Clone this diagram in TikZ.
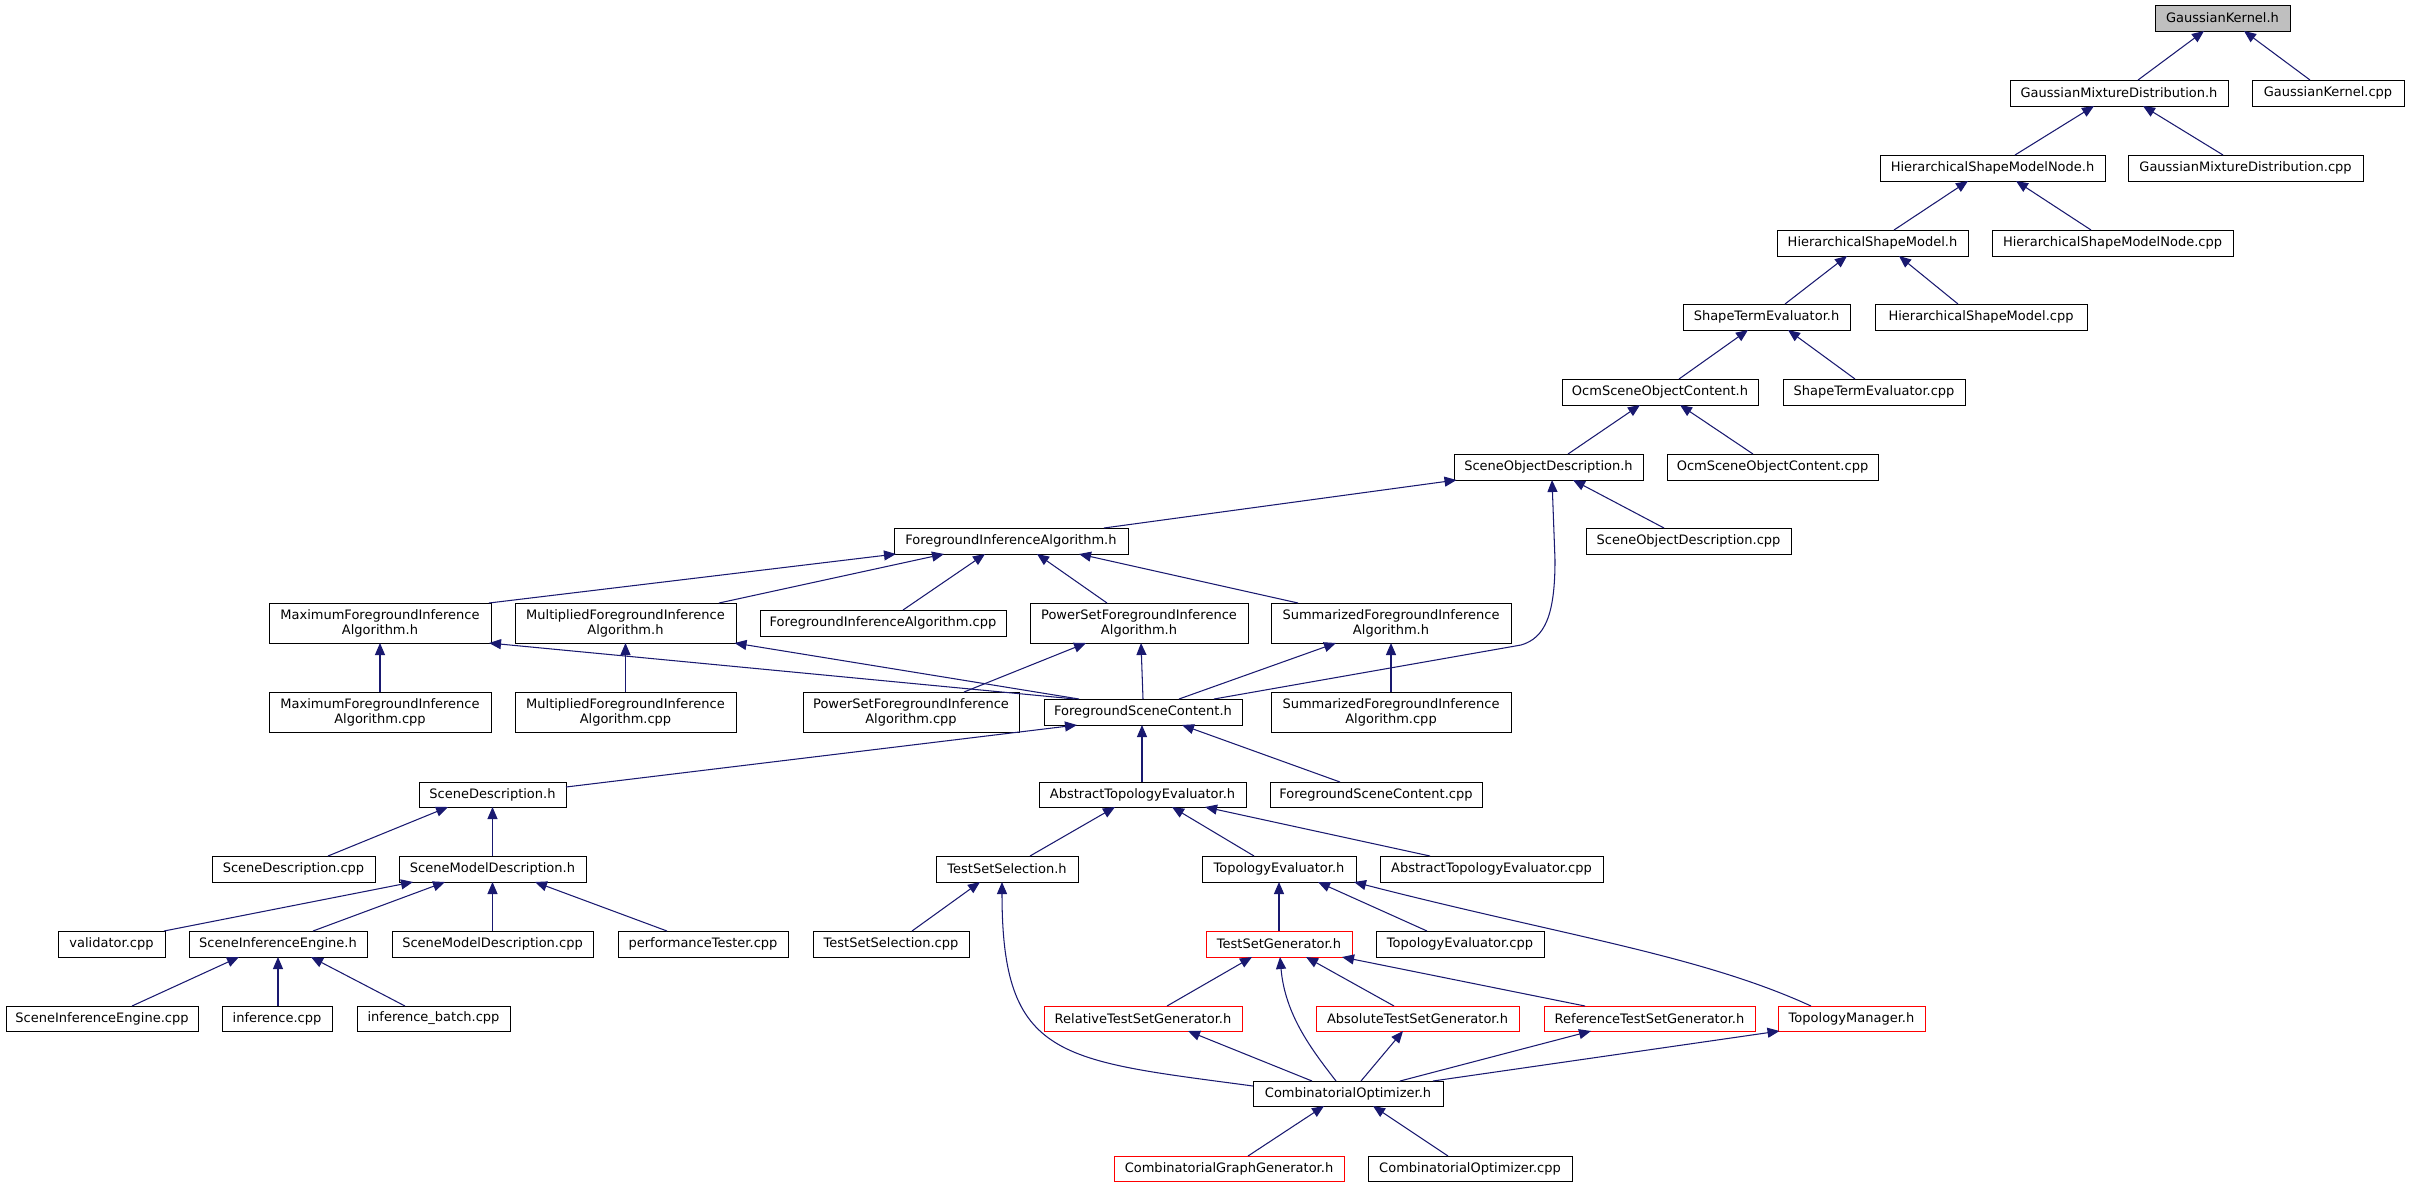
\documentclass[tikz,border=0pt]{standalone}
\usepackage{fontspec}
\newfontfamily\dg{DejaVu Sans}
\usetikzlibrary{arrows.meta}
\definecolor{navy}{RGB}{25,25,112}
\tikzset{
  box/.style={draw=black, fill=white, line width=0.9pt, inner sep=0pt, outer sep=0pt, align=center, font=\dg\fontsize{13}{15}\selectfont},
  redbox/.style={box, draw=red},
  graybox/.style={box, fill=black!25},
  edge/.style={draw=navy, line width=1.05pt, {Triangle[length=12pt,width=10pt]}-}
}
\newcommand\nd[7]{\node[#7, minimum width=#4pt, minimum height=#5pt] (#1) at (#2,#3) {#6};}
\newcommand\ed[4]{\draw[edge] ([xshift=#2pt]#1.south) -- ([xshift=#4pt]#3.north);}
\begin{document}
\begin{tikzpicture}[x=1pt,y=-1pt]
\useasboundingbox (0,0) rectangle (2409,1187);
\fill[white] (0,0) rectangle (2409,1187);
\nd{gkh}{2222.5}{18}{135}{26}{GaussianKernel.h}{graybox}
\nd{gmdh}{2119}{93}{218}{26}{GaussianMixtureDistribution.h}{box}
\nd{gkcpp}{2328}{93}{152}{26}{GaussianKernel.cpp}{box}
\nd{hsmnh}{1992.5}{168}{225}{26}{HierarchicalShapeModelNode.h}{box}
\nd{gmdcpp}{2245.5}{168}{235}{26}{GaussianMixtureDistribution.cpp}{box}
\nd{hsmh}{1872.5}{243}{191}{26}{HierarchicalShapeModel.h}{box}
\nd{hsmncpp}{2112.5}{243}{241}{26}{HierarchicalShapeModelNode.cpp}{box}
\nd{steh}{1766.5}{317}{167}{26}{ShapeTermEvaluator.h}{box}
\nd{hsmcpp}{1981}{317}{212}{26}{HierarchicalShapeModel.cpp}{box}
\nd{osoch}{1660}{392}{196}{26}{OcmSceneObjectContent.h}{box}
\nd{stecpp}{1874}{392}{182}{26}{ShapeTermEvaluator.cpp}{box}
\nd{sodh}{1548.5}{467}{189}{26}{SceneObjectDescription.h}{box}
\nd{osoccpp}{1772.5}{467}{211}{26}{OcmSceneObjectContent.cpp}{box}
\nd{fiah}{1011}{541}{234}{26}{ForegroundInferenceAlgorithm.h}{box}
\nd{sodcpp}{1688.5}{541}{205}{26}{SceneObjectDescription.cpp}{box}
\nd{maxh}{380}{623}{222}{40}{MaximumForegroundInference\\Algorithm.h}{box}
\nd{multh}{625.5}{623}{221}{40}{MultipliedForegroundInference\\Algorithm.h}{box}
\nd{fiacpp}{883}{623}{246}{26}{ForegroundInferenceAlgorithm.cpp}{box}
\nd{psh}{1139}{623}{218}{40}{PowerSetForegroundInference\\Algorithm.h}{box}
\nd{sumh}{1391}{623}{240}{40}{SummarizedForegroundInference\\Algorithm.h}{box}
\nd{maxcpp}{380}{712}{222}{40}{MaximumForegroundInference\\Algorithm.cpp}{box}
\nd{multcpp}{625.5}{712}{221}{40}{MultipliedForegroundInference\\Algorithm.cpp}{box}
\nd{pscpp}{911}{712}{216}{40}{PowerSetForegroundInference\\Algorithm.cpp}{box}
\nd{fsch}{1143}{712}{198}{26}{ForegroundSceneContent.h}{box}
\nd{sumcpp}{1391}{712}{240}{40}{SummarizedForegroundInference\\Algorithm.cpp}{box}
\nd{sdh}{492.5}{794.5}{147}{25}{SceneDescription.h}{box}
\nd{ateh}{1142.5}{794.5}{207}{25}{AbstractTopologyEvaluator.h}{box}
\nd{fsccpp}{1376}{794.5}{212}{25}{ForegroundSceneContent.cpp}{box}
\nd{sdcpp}{293.5}{869}{163}{26}{SceneDescription.cpp}{box}
\nd{smdh}{492.5}{869}{187}{26}{SceneModelDescription.h}{box}
\nd{tssh}{1007}{869}{142}{26}{TestSetSelection.h}{box}
\nd{teh}{1279}{869}{154}{26}{TopologyEvaluator.h}{box}
\nd{atecpp}{1491.5}{869}{223}{26}{AbstractTopologyEvaluator.cpp}{box}
\nd{validator}{111.5}{944}{107}{26}{validator.cpp}{box}
\nd{sieh}{278}{944}{178}{26}{SceneInferenceEngine.h}{box}
\nd{smdcpp}{492.5}{944}{201}{26}{SceneModelDescription.cpp}{box}
\nd{perf}{703}{944}{170}{26}{performanceTester.cpp}{box}
\nd{tsscpp}{891}{944}{156}{26}{TestSetSelection.cpp}{box}
\nd{tsgh}{1279}{944}{146}{26}{TestSetGenerator.h}{redbox}
\nd{tecpp}{1460}{944}{168}{26}{TopologyEvaluator.cpp}{box}
\nd{siecpp}{102}{1018.5}{192}{25}{SceneInferenceEngine.cpp}{box}
\nd{infcpp}{277}{1018.5}{110}{25}{inference.cpp}{box}
\nd{infbcpp}{433.5}{1018.5}{153}{25}{inference\_batch.cpp}{box}
\nd{rtsgh}{1143}{1018.5}{198}{25}{RelativeTestSetGenerator.h}{redbox}
\nd{atsgh}{1417.5}{1018.5}{203}{25}{AbsoluteTestSetGenerator.h}{redbox}
\nd{reftsgh}{1649.5}{1018.5}{211}{25}{ReferenceTestSetGenerator.h}{redbox}
\nd{tmh}{1851.5}{1018.5}{147}{25}{TopologyManager.h}{redbox}
\nd{coh}{1348}{1093.5}{190}{25}{CombinatorialOptimizer.h}{box}
\nd{cggh}{1229}{1168.5}{230}{25}{CombinatorialGraphGenerator.h}{redbox}
\nd{cocpp}{1470}{1168.5}{204}{25}{CombinatorialOptimizer.cpp}{box}
% edges
\ed{gkh}{-18.5}{gmdh}{19}
\ed{gkh}{21.5}{gkcpp}{-18}
\ed{gmdh}{-25}{hsmnh}{22.5}
\ed{gmdh}{24}{gmdcpp}{-22.5}
\ed{hsmnh}{-24.5}{hsmh}{21.5}
\ed{hsmnh}{23.5}{hsmncpp}{-21.5}
\ed{hsmh}{-25.5}{steh}{18.5}
\ed{hsmh}{26.5}{hsmcpp}{-23}
\ed{steh}{-18.5}{osoch}{19}
\ed{steh}{21.5}{stecpp}{-19}
\ed{osoch}{-20}{sodh}{19.5}
\ed{osoch}{20}{osoccpp}{-19.5}
\ed{sodh}{-92}{fiah}{93}
\coordinate (k1) at (1555,560);
\coordinate (k2) at (1521,645);
\draw[edge] ([xshift=3.5pt]sodh.south) -- (k1) .. controls (1555,615) and (1545,638) .. (k2) -- ([xshift=71pt]fsch.north);
\ed{sodh}{24.5}{sodcpp}{-24.5}
\ed{fiah}{-115}{maxh}{109}
\ed{fiah}{-67}{multh}{93.5}
\ed{fiah}{-26}{fiacpp}{20}
\ed{fiah}{26}{psh}{-32}
\ed{fiah}{68}{sumh}{-93}
\ed{maxh}{0}{maxcpp}{0}
\ed{multh}{0}{multcpp}{0}
\ed{maxh}{109}{fsch}{-68}
\ed{multh}{109}{fsch}{-64}
\ed{psh}{2}{fsch}{0}
\ed{psh}{-53}{pscpp}{53}
\ed{sumh}{-55}{fsch}{36}
\ed{sumh}{0}{sumcpp}{0}
\draw[edge] ([xshift=-66pt]fsch.south) -- ([yshift=7.5pt]sdh.east);
\ed{fsch}{-1}{ateh}{-0.5}
\ed{fsch}{39}{fsccpp}{-36}
\ed{ateh}{-27.5}{tssh}{23}
\ed{ateh}{29.5}{teh}{-25}
\ed{ateh}{62.5}{atecpp}{-61.5}
\ed{sdh}{-44.5}{sdcpp}{34.5}
\ed{sdh}{0}{smdh}{0}
\ed{smdh}{-79.5}{validator}{52.5}
\ed{smdh}{-47.5}{sieh}{35}
\ed{smdh}{0}{smdcpp}{0}
\ed{smdh}{42.5}{perf}{-36}
\ed{sieh}{-39}{siecpp}{30}
\ed{sieh}{0}{infcpp}{1}
\ed{sieh}{33}{infbcpp}{-28.5}
\ed{tssh}{-27}{tsscpp}{21}
\draw[edge] ([xshift=-5pt]tssh.south) .. controls (1002,1060) and (1060,1060) .. ([yshift=7.5pt]coh.west);
\ed{teh}{0}{tsgh}{0}
\ed{teh}{39}{tecpp}{-33}
\draw[edge] ([xshift=-2pt]teh.south east) .. controls (1560,935) and (1700,955) .. ([xshift=-40.5pt]tmh.north);
\ed{tsgh}{-27}{rtsgh}{24}
\draw[edge] ([xshift=1pt]tsgh.south) .. controls (1285,1015) and (1312,1050) .. ([xshift=-12pt]coh.north);
\ed{tsgh}{27}{atsgh}{-23.5}
\ed{tsgh}{63}{reftsgh}{-64.5}
\ed{rtsgh}{45}{coh}{-36}
\ed{atsgh}{-14.5}{coh}{13}
\ed{reftsgh}{-58.5}{coh}{52}
\ed{tmh}{-72}{coh}{85}
\ed{coh}{-24}{cggh}{19}
\ed{coh}{25}{cocpp}{-22}
\end{tikzpicture}
\end{document}
